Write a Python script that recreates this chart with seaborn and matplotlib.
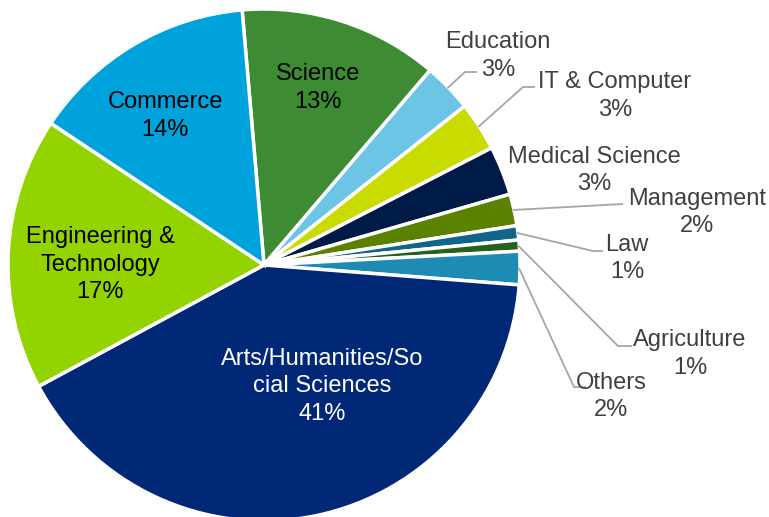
import matplotlib
matplotlib.use("Agg")
import matplotlib.pyplot as plt
import seaborn as sns
import numpy as np

# Share of enrolment by discipline (percent), clockwise from the top
categories = ["Science", "Education", "IT & Computer", "Medical Science",
              "Management", "Law", "Agriculture", "Others",
              "Arts/Humanities/So\ncial Sciences", "Engineering &\nTechnology",
              "Commerce"]
shares = [12.6, 3.1, 3.1, 3.1, 2.0, 0.9, 0.7, 2.1, 40.9, 17.2, 14.3]
colors = ["#3D8B32", "#6DC5E6", "#C8DC00", "#001A47", "#5A8200",
          "#0F6688", "#275F1F", "#1E8BB4", "#002877", "#92D300", "#00A2DC"]

sns.set_theme(style="white")
plt.rcParams["font.family"] = ["Liberation Sans", "DejaVu Sans"]

W, H = 769, 517
fig = plt.figure(figsize=(W / 100, H / 100), dpi=100)
ax = fig.add_axes([0, 0, 1, 1])

cx, cy, R = 264, H - 265, 256
start = 94.9
wedges, _ = ax.pie(shares, colors=colors, startangle=start, counterclock=False,
                   center=(cx, cy), radius=R,
                   wedgeprops=dict(edgecolor="white", linewidth=2.5))
ax.set_xlim(0, W)
ax.set_ylim(0, H)
ax.set_aspect("equal")
ax.set_axis_off()

FS = 17
pct = [f"{round(v)}%" for v in shares]

# label anchors (pixel layout, y measured from top): x, y of first line, colour
inside = {
    0: (318, 74, "black"),
    10: (165, 102, "black"),
    9: (100, 237, "black"),
    8: (322, 359, "white"),
}
outside = {
    1: (498, 42),
    2: (615, 82),
    3: (594, 157),
    4: (697, 199),
    5: (627, 245),
    6: (690, 340),
    7: (611, 383),
}
LINE = 27.5

for i, (x, y, c) in inside.items():
    lines = categories[i].split("\n") + [pct[i]]
    for k, s in enumerate(lines):
        ax.text(x, H - (y + k * LINE), s, ha="center", va="center",
                fontsize=FS, color=c)

for i, (x, y) in outside.items():
    lines = categories[i].split("\n") + [pct[i]]
    for k, s in enumerate(lines):
        ax.text(x, H - (y + k * LINE), s, ha="center", va="center",
                fontsize=FS, color="#404040")

# leader lines: from the wedge's mid-angle on the rim, via an elbow, to the label
cum = np.concatenate([[0], np.cumsum(shares)])
leaders = {
    1: [(465, 72), (477, 72)],
    2: [(523, 87), (535, 87)],
    4: [(623, 204)],
    5: [(593, 251), (603, 251)],
    6: [(618, 346), (632, 346)],
    7: [(574, 387), (586, 387)],
}
for i, pts in leaders.items():
    mid = np.deg2rad((cum[i] + cum[i + 1]) / 2 * 3.6 + (90 - start))
    x0 = cx + (R - 1) * np.sin(mid)
    y0 = cy + (R - 1) * np.cos(mid)
    xs = [x0] + [p[0] for p in pts]
    ys = [y0] + [H - p[1] for p in pts]
    ax.plot(xs, ys, color="#A6A6A6", lw=1.3, solid_capstyle="butt")

fig.savefig("out.png", dpi=100)
